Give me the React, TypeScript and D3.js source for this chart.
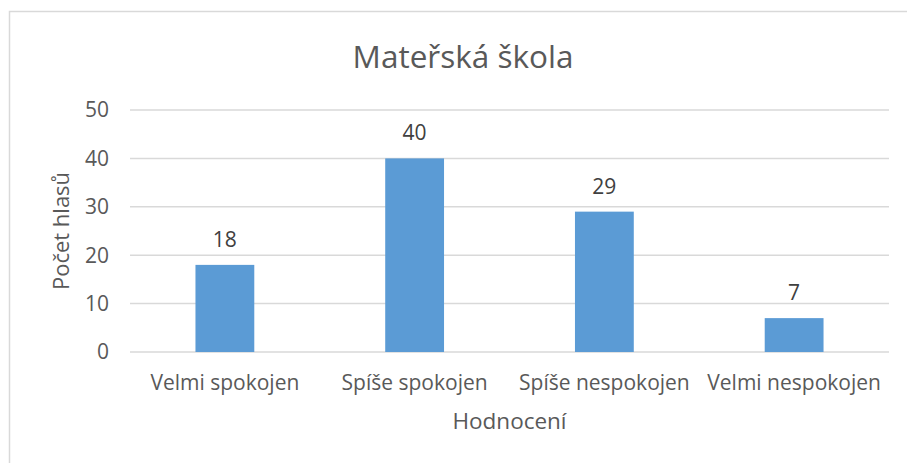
import { useRef, useEffect } from 'react';
import * as d3 from 'd3';

const categories = ['Velmi spokojen', 'Spíše spokojen', 'Spíše nespokojen', 'Velmi nespokojen'];
const votes = [18, 40, 29, 7];
const yTicks = [0, 10, 20, 30, 40, 50];
const title = 'Mateřská škola';
const xTitle = 'Hodnocení';
const yTitle = 'Počet hlasů';

const W = 907;
const H = 463;
const FONT = '"Open Sans", sans-serif';
const TEXT = '#595959';
const GRID = '#d9d9d9';
const BAR = '#5b9bd5';

const App = () => {
  const ref = useRef<SVGSVGElement>(null);

  useEffect(() => {
    const svg = d3.select(ref.current);
    svg.selectAll('*').remove();

    const left = 130, right = 889, top = 110, bottom = 352;

    const x = d3.scaleBand<string>()
      .domain(categories)
      .range([left, right])
      .paddingInner(0.69)
      .paddingOuter(0.345);

    const y = d3.scaleLinear().domain([0, 50]).range([bottom, top]);

    // chart frame
    svg.append('rect')
      .attr('x', 9.5).attr('y', 11.5)
      .attr('width', W).attr('height', H)
      .attr('fill', '#fff')
      .attr('stroke', GRID)
      .attr('stroke-width', 1.5);

    // gridlines
    svg.append('g')
      .selectAll('line')
      .data(yTicks)
      .join('line')
      .attr('x1', left).attr('x2', right)
      .attr('y1', d => y(d)).attr('y2', d => y(d))
      .attr('stroke', GRID)
      .attr('stroke-width', 1.5);

    // y tick labels
    svg.append('g')
      .selectAll('text')
      .data(yTicks)
      .join('text')
      .attr('x', 109)
      .attr('y', d => y(d))
      .attr('dy', '0.35em')
      .attr('text-anchor', 'end')
      .attr('font-family', FONT)
      .attr('font-size', 21)
      .attr('fill', TEXT)
      .text(d => d);

    // bars
    svg.append('g')
      .selectAll('rect')
      .data(votes)
      .join('rect')
      .attr('x', (_, i) => x(categories[i])!)
      .attr('y', d => y(d))
      .attr('width', x.bandwidth())
      .attr('height', d => y(0) - y(d))
      .attr('fill', BAR);

    // value labels
    svg.append('g')
      .selectAll('text')
      .data(votes)
      .join('text')
      .attr('x', (_, i) => x(categories[i])! + x.bandwidth() / 2)
      .attr('y', d => y(d) - 18)
      .attr('text-anchor', 'middle')
      .attr('font-family', FONT)
      .attr('font-size', 21)
      .attr('fill', '#404040')
      .text(d => d);

    // category labels
    svg.append('g')
      .selectAll('text')
      .data(categories)
      .join('text')
      .attr('x', d => x(d)! + x.bandwidth() / 2)
      .attr('y', 390)
      .attr('text-anchor', 'middle')
      .attr('font-family', FONT)
      .attr('font-size', 21)
      .attr('fill', TEXT)
      .text(d => d);

    // titles
    svg.append('text')
      .attr('x', 463).attr('y', 68)
      .attr('text-anchor', 'middle')
      .attr('font-family', FONT)
      .attr('font-size', 31.5)
      .attr('fill', TEXT)
      .text(title);

    svg.append('text')
      .attr('x', (left + right) / 2).attr('y', 429)
      .attr('text-anchor', 'middle')
      .attr('font-family', FONT)
      .attr('font-size', 22.5)
      .attr('fill', TEXT)
      .text(xTitle);

    svg.append('text')
      .attr('transform', `translate(69,${(top + bottom) / 2}) rotate(-90)`)
      .attr('text-anchor', 'middle')
      .attr('font-family', FONT)
      .attr('font-size', 22)
      .attr('fill', TEXT)
      .text(yTitle);
  }, []);

  return (
    <svg ref={ref} width={W} height={H}
      style={{ position: 'absolute', left: 0, top: 0, display: 'block', background: '#fff' }} />
  );
};

export default App;
